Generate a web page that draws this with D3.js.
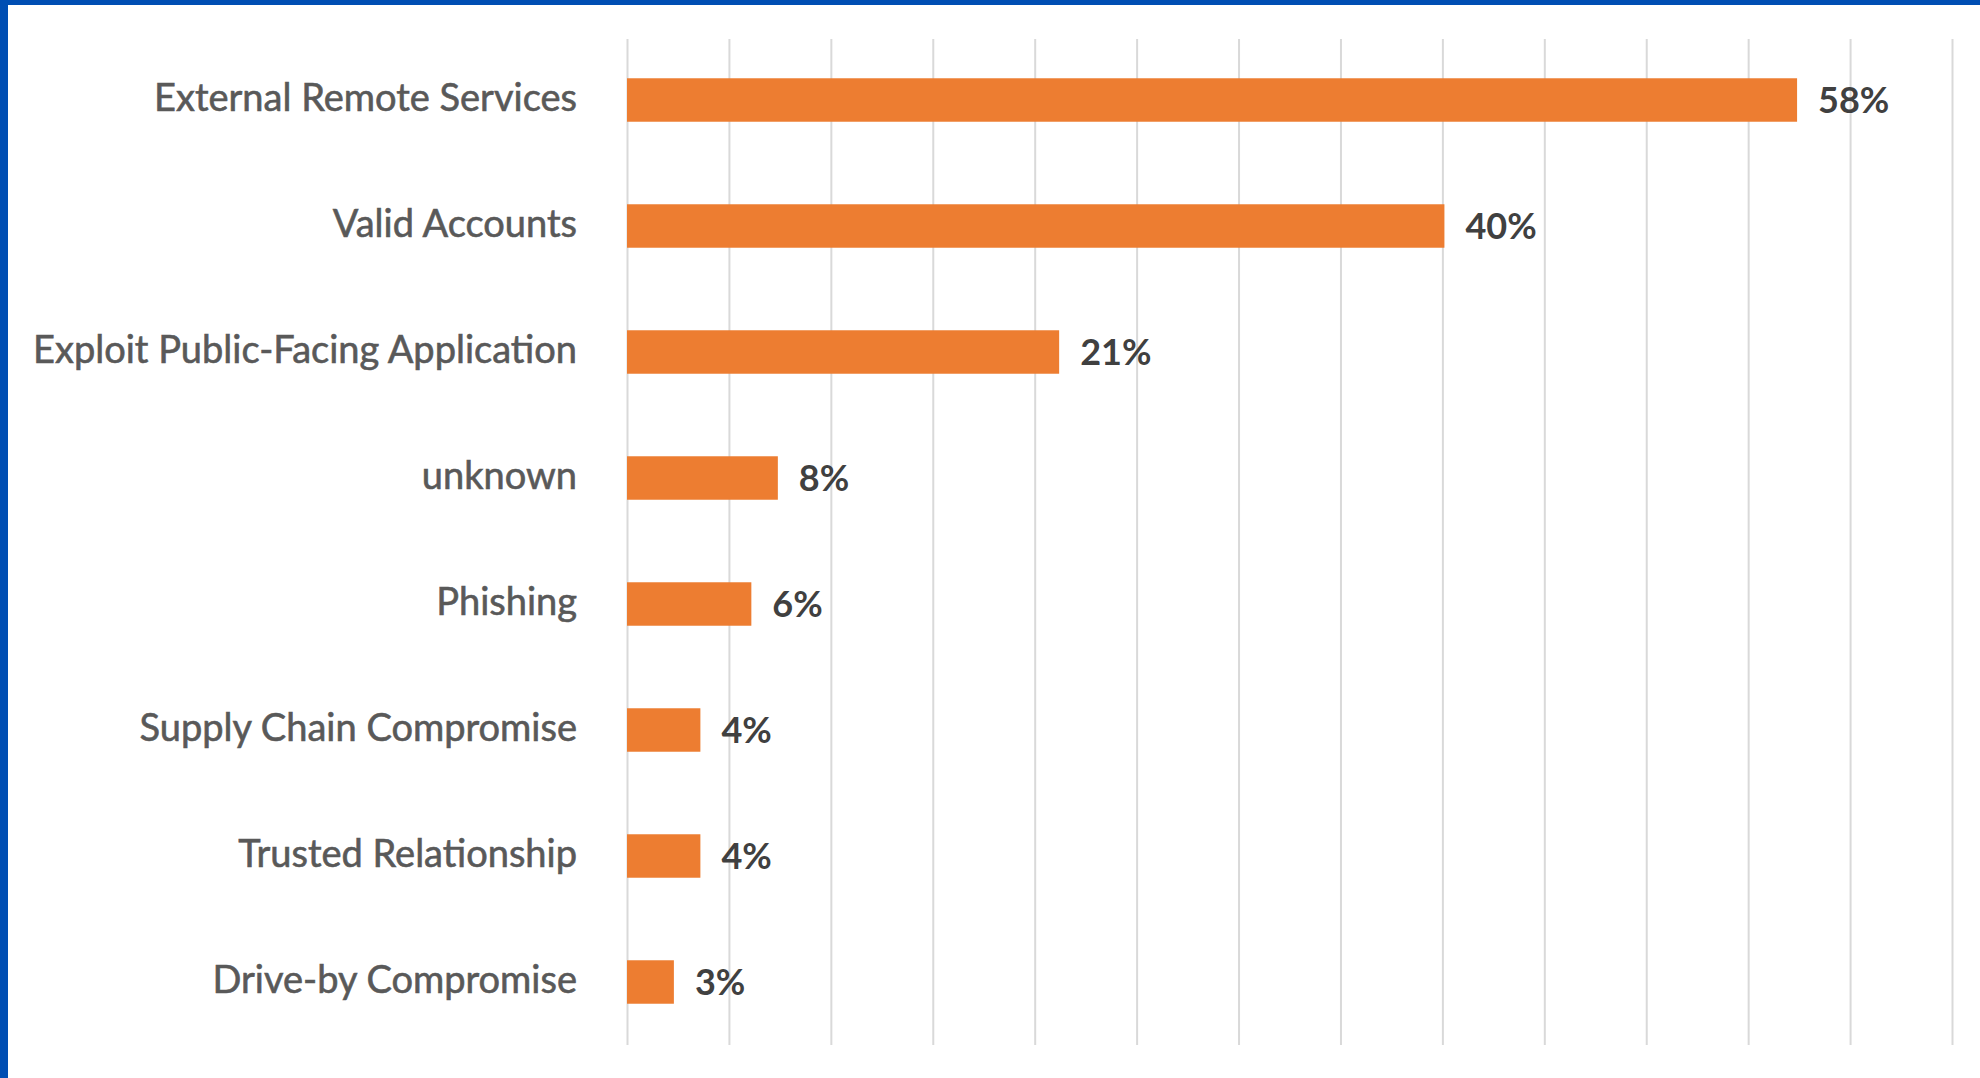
<!DOCTYPE html>
<html>
<head>
<meta charset="utf-8">
<script src="https://cdn.jsdelivr.net/npm/d3@7"></script>
<style>
  html, body { margin: 0; padding: 0; background: #fff; }
  svg { display: block; }
</style>
</head>
<body>
<svg id="chart" width="1980" height="1078"></svg>
<script>
const categories = [
  "External Remote Services",
  "Valid Accounts",
  "Exploit Public-Facing Application",
  "unknown",
  "Phishing",
  "Supply Chain Compromise",
  "Trusted Relationship",
  "Drive-by Compromise"
];
// bar lengths (percent)
const shares = [57.4, 40.1, 21.2, 7.4, 6.1, 3.6, 3.6, 2.3];
// data labels as printed next to the bars
const shareLabels = ["58%", "40%", "21%", "8%", "6%", "4%", "4%", "3%"];
const gridTicks = d3.range(0, 66, 5);

const width = 1980;
const height = 1078;
const plotLeft = 627, plotRight = 1952, plotTop = 37, plotBottom = 1045;

const svg = d3.select("#chart");

// blue frame on the left and top edges
svg.append("rect").attr("x", 0).attr("y", 0).attr("width", width).attr("height", 5).attr("fill", "#004EB3");
svg.append("rect").attr("x", 0).attr("y", 0).attr("width", 8).attr("height", height).attr("fill", "#004EB3");

const xScale = d3.scaleLinear().domain([0, 65]).range([plotLeft, plotRight]);

const yScale = d3.scaleBand()
  .domain(categories)
  .range([plotTop, plotBottom])
  .paddingInner(0.655)
  .paddingOuter(0.3275);

// vertical gridlines
const xAxis = d3.axisBottom(xScale)
  .tickValues(gridTicks)
  .tickSize(-(plotBottom - 39))
  .tickFormat("");
svg.append("g")
  .attr("class", "x-grid")
  .attr("transform", `translate(0,${plotBottom})`)
  .call(xAxis)
  .call(g => g.select(".domain").remove())
  .call(g => g.selectAll("line").attr("stroke", "#D9D9D9").attr("stroke-width", 2));

const rows = categories.map((name, i) => ({ name, value: shares[i], label: shareLabels[i] }));

svg.selectAll("rect.bar")
  .data(rows)
  .join("rect")
  .attr("class", "bar")
  .attr("x", xScale(0))
  .attr("y", d => yScale(d.name))
  .attr("width", d => xScale(d.value) - xScale(0))
  .attr("height", yScale.bandwidth())
  .attr("fill", "#ED7D31");

// category labels
const yAxis = d3.axisLeft(yScale).tickSize(0).tickPadding(0);
svg.append("g")
  .attr("class", "y-axis")
  .attr("transform", "translate(577,0)")
  .call(yAxis)
  .call(g => g.select(".domain").remove())
  .selectAll("text")
  .attr("font-family", "Lato, 'Open Sans', sans-serif")
  .attr("font-size", 38)
  .attr("fill", "#595959")
  .attr("stroke", "#595959")
  .attr("stroke-width", 0.6)
  .attr("dy", "0.28em");

// value labels
svg.selectAll("text.value")
  .data(rows)
  .join("text")
  .attr("class", "value")
  .attr("x", d => xScale(d.value) + 21)
  .attr("y", d => yScale(d.name) + yScale.bandwidth() / 2)
  .attr("dy", "0.36em")
  .attr("font-family", "Lato, 'Open Sans', sans-serif")
  .attr("font-weight", 700)
  .attr("font-size", 36)
  .attr("fill", "#404040")
  .text(d => d.label);
</script>
</body>
</html>
